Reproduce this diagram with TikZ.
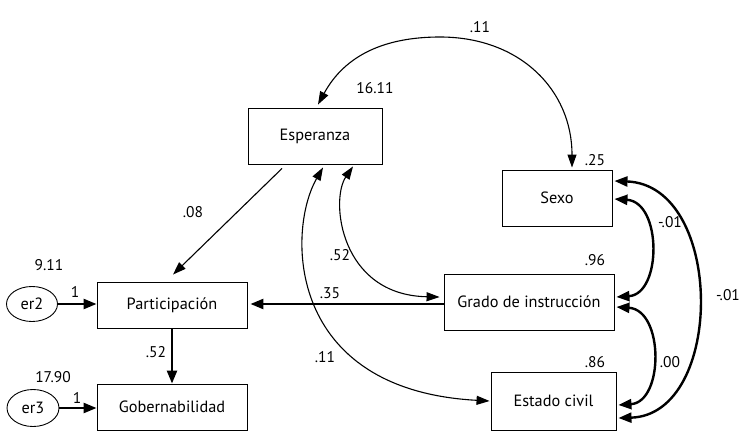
\documentclass[tikz,border=0pt]{standalone}
\usepackage{fontspec}
\setmainfont{PT Sans}
\usetikzlibrary{arrows.meta,shapes.geometric,calc}
\begin{document}
\begin{tikzpicture}[x=1pt,y=-1pt,
  box/.style={draw,line width=0.9pt,rectangle,inner sep=0pt,font=\fontsize{16.3}{19}\selectfont},
  err/.style={draw,ellipse,line width=0.9pt,inner sep=0pt,font=\fontsize{16.3}{19}\selectfont},
  num/.style={font=\fontsize{15.5}{18}\selectfont,inner sep=0pt},
  thinarr/.style={line width=1.1pt,-{Triangle[length=13pt,width=9pt]}},
  thickarr/.style={line width=2.4pt,-{Triangle[length=13pt,width=10pt]}},
  thinbi/.style={line width=1.1pt,{Triangle[length=13pt,width=9pt]}-{Triangle[length=13pt,width=9pt]}},
  thickbi/.style={line width=2.4pt,{Triangle[length=13pt,width=10pt]}-{Triangle[length=13pt,width=10pt]}}
]
\useasboundingbox (0,0) rectangle (749,447);

\node[box,minimum width=134pt,minimum height=56pt] (esp) at (315,136) {Esperanza};
\node[box,minimum width=110pt,minimum height=56pt] (sexo) at (557,198) {Sexo};
\node[box,minimum width=170pt,minimum height=56pt] (grado) at (529,302) {Grado de instrucción};
\node[box,minimum width=125pt,minimum height=58pt] (estado) at (553.5,401) {Estado civil};
\node[box,minimum width=150pt,minimum height=46pt] (part) at (172,305) {Participación};
\node[box,minimum width=150pt,minimum height=46pt] (gob) at (172,407) {Gobernabilidad};
\node[err,minimum width=51pt,minimum height=35pt] (er2) at (32,304) {er2};
\node[err,minimum width=52pt,minimum height=37pt] (er3) at (33,408) {er3};

% numbers
\node[num] (n1) at (480,27) {.11};
\node[num] (n2) at (375,88) {16.11};
\node[num] (n3) at (595,160) {.25};
\node[num] (n4) at (595,260) {.96};
\node[num] (n5) at (595,362) {.86};
\node[num] (n6) at (670,222) {-.01};
\node[num] (n7) at (670,362) {.00};
\node[num] (n8) at (728,295) {-.01};
\node[num] (n9) at (340,255) {.52};
\node[num] (n10) at (330,293) {.35};
\node[num] (n11) at (325,357) {.11};
\node[num] (n12) at (193,212) {.08};
\node[num] (n13) at (49,265) {9.11};
\node[num] (n14) at (53,377) {17.90};
\node[num] (n15) at (75,292) {1};
\node[num] (n16) at (77,398) {1};
\node[num] (n17) at (156,352) {.52};

% straight paths
\draw[thickarr] (er2.east) -- (er2.east -| part.west);
\draw[thickarr] (er3.east) -- (er3.east -| gob.west);
\draw[thickarr] (part.south) -- (gob.north);
\draw[thickarr] ([yshift=-2pt]grado.west) -- ([xshift=3pt,yshift=1pt]part.east);
\draw[thinarr] ([xshift=-33pt,yshift=-4pt]esp.south) -- ([xshift=1pt,yshift=7pt]part.north);

% covariances
\draw[thinbi] ([xshift=3pt,yshift=3pt]esp.north) .. controls (345,55) and (385,37) .. (440,37)
   .. controls (520,37) and (572,90) .. ([xshift=15pt,yshift=2pt]sexo.north);
\draw[thinbi] ([xshift=38pt,yshift=-2pt]esp.south) .. controls (330,200) and (340,295) .. ([xshift=-4pt,yshift=5pt]grado.west);
\draw[thinbi] ([xshift=8pt,yshift=-3pt]esp.south) .. controls (287,230) and (285,390) .. ([xshift=-1pt]estado.west);
\draw[thickbi] ([xshift=2pt,yshift=-1pt]sexo.east) .. controls (662,202) and (662,294) .. ([xshift=2pt,yshift=5pt]grado.east);
\draw[thickbi] ([xshift=2pt,yshift=-5pt]grado.east) .. controls (664,310) and (664,402) .. ([xshift=2pt,yshift=-4pt]estado.east);
\draw[thickbi] ([xshift=2pt,yshift=17pt]sexo.east) .. controls (725,185) and (725,415) .. ([xshift=2pt,yshift=-17pt]estado.east);
\end{tikzpicture}
\end{document}
